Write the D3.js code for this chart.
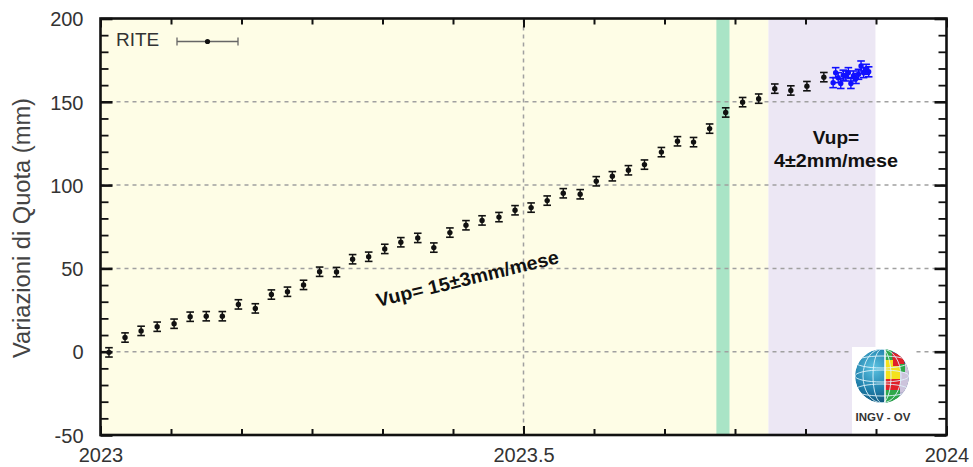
<!DOCTYPE html>
<html><head><meta charset="utf-8">
<script src="https://cdn.jsdelivr.net/npm/d3@7"></script>
<style>html,body{margin:0;padding:0;background:#fff;}svg{display:block;font-family:"Liberation Sans",Arial,sans-serif;}</style>
</head><body><div id="chart"></div>
<script>
// ---- DATA ----
const stationName = "RITE";
const weeklyDates = [2023.010,2023.029,2023.048,2023.067,2023.087,2023.106,2023.125,2023.144,2023.163,2023.183,
  2023.202,2023.221,2023.240,2023.259,2023.279,2023.298,2023.317,2023.336,2023.355,2023.375,
  2023.394,2023.413,2023.432,2023.451,2023.471,2023.490,2023.509,2023.528,2023.547,2023.567,
  2023.586,2023.605,2023.624,2023.643,2023.663,2023.682,2023.701,2023.720,2023.739,2023.759,
  2023.778,2023.797,2023.816,2023.835,2023.855];
const weeklyValues = [-0.4,8.5,12.5,15,16.8,21,21.3,21.3,28.4,26,
  34.3,36,40.1,48,47.8,55.5,57,61.7,65.7,68.3,
  62.5,71.5,75.9,78.8,80.8,84.9,86.5,90.7,95.1,94.5,
  102.3,105.3,108.9,112.3,119.8,126.3,125.8,133.9,143.6,149.8,
  151.9,157.9,156.8,159.4,164.8];
const weeklyErr = [2.8,2.8,2.8,2.8,2.8,2.8,2.8,2.8,2.8,2.8,2.8,2.8,2.8,2.8,2.8,2.8,2.8,2.8,2.8,2.8,
  2.8,2.8,2.8,2.8,2.8,2.8,2.8,2.8,2.8,2.8,2.8,2.8,2.8,2.8,2.8,2.8,2.8,2.8,2.8,2.8,2.8,2.8,2.8,2.8,2.8];
const dailyDates = [2023.866,2023.869,2023.872,2023.875,2023.878,2023.881,2023.884,2023.887,2023.890,2023.893,
  2023.896,2023.899,2023.902,2023.905,2023.908];
const dailyValues = [161.5,167.5,164.5,161,166,165.5,167.5,161,165.5,164,166.5,171.5,167.5,169.5,168];
const dailyErr = [3,3,3,3,3,3,3,3,3,3,3,3,3,3,3];
const periods = [ // [start, end]
  [2023.0, 2023.7895],   // fase 1 (yellow)
  [2023.728, 2023.7435], // green band
  [2023.7895, 2023.916]  // fase 2 (lavender)
];
const gridY = [0, 50, 100, 150];
const gridX = [2023.5];
const yTicksMajor = [-50, 0, 50, 100, 150, 200];
const xTicksMajor = [2023, 2023.5, 2024];
const rateLabel1 = "Vup= 15±3mm/mese";
const rateLabel2a = "Vup=";
const rateLabel2b = "4±2mm/mese";
const yTitle = "Variazioni di Quota (mm)";
const logoText = "INGV - OV";

// ---- CHART ----
const W = 973, H = 467;
const svg = d3.select("#chart").append("svg").attr("width", W).attr("height", H);
const x = d3.scaleLinear().domain([2023, 2024]).range([100.5, 946.5]);
const y = d3.scaleLinear().domain([-50, 200]).range([435, 18.5]);
const pTop = y(200), pBot = y(-50), pLeft = x(2023), pRight = x(2024);

// backgrounds
const bgCols = ["#fefde6", "#a9e4c6", "#ece7f4"];
svg.selectAll("rect.bg").data(periods).join("rect").attr("class", "bg")
  .attr("x", d => x(d[0])).attr("width", d => x(d[1]) - x(d[0]))
  .attr("y", pTop).attr("height", pBot - pTop)
  .attr("fill", (d, i) => bgCols[i]);

// gridlines
svg.selectAll("line.gy").data(gridY).join("line").attr("class", "gy")
  .attr("x1", pLeft).attr("x2", pRight).attr("y1", d => y(d)).attr("y2", d => y(d))
  .attr("stroke", "#a0a0a0").attr("stroke-width", 1.5).attr("stroke-dasharray", "4,4");
svg.selectAll("line.gx").data(gridX).join("line").attr("class", "gx")
  .attr("y1", pTop).attr("y2", pBot).attr("x1", d => x(d)).attr("x2", d => x(d))
  .attr("stroke", "#a0a0a0").attr("stroke-width", 1.5).attr("stroke-dasharray", "4,4");

// logo
const defs = svg.append("defs");
const rg = defs.append("radialGradient").attr("id", "globeG").attr("cx", "35%").attr("cy", "35%").attr("r", "75%");
rg.append("stop").attr("offset", "0%").attr("stop-color", "#5cc3e2");
rg.append("stop").attr("offset", "55%").attr("stop-color", "#1f7fab");
rg.append("stop").attr("offset", "100%").attr("stop-color", "#0c4a6e");
const gcx = 882, gcy = 376, gr = 27;
defs.append("clipPath").attr("id", "globeClip").append("circle").attr("cx", gcx).attr("cy", gcy).attr("r", gr);
const logo = svg.append("g");
logo.append("rect").attr("x", 852).attr("y", 347).attr("width", 61).attr("height", 87).attr("fill", "#fff");
const gl = logo.append("g").attr("clip-path", "url(#globeClip)");
gl.append("circle").attr("cx", gcx).attr("cy", gcy).attr("r", gr).attr("fill", "url(#globeG)");
const patches = [
  ["#2fa84a", [[885,349],[892,349],[893,360],[885,360]]],
  ["#e02028", [[892,352],[903,356],[905,366],[893,366]]],
  ["#f4e21c", [[885,360],[893,360],[893,366],[885,366]]],
  ["#f4e21c", [[885,366],[900,366],[900,379],[885,379]]],
  ["#2fa84a", [[900,364],[905,364],[905,372],[900,372]]],
  ["#e02028", [[885,379],[900,379],[900,390],[885,390]]],
  ["#cdc4dc", [[905,360],[912,360],[912,392],[900,392],[900,372],[905,372]]],
  ["#2fa84a", [[885,390],[900,390],[899,405],[885,405]]],
  ["#b9b3cf", [[900,392],[912,392],[912,405],[899,405]]]
];
gl.selectAll("polygon").data(patches).join("polygon")
  .attr("points", d => d[1].map(p => p.join(",")).join(" ")).attr("fill", d => d[0]);
[-14, 0, 14].forEach(dy => {
  gl.append("ellipse").attr("cx", gcx).attr("cy", gcy + dy).attr("rx", gr).attr("ry", 6)
    .attr("fill", "none").attr("stroke", "#dff3fa").attr("stroke-width", 0.9);
});
[9, 19].forEach(rx => {
  gl.append("ellipse").attr("cx", gcx).attr("cy", gcy).attr("rx", rx).attr("ry", gr)
    .attr("fill", "none").attr("stroke", "#dff3fa").attr("stroke-width", 0.9);
});
gl.append("line").attr("x1", gcx + 3).attr("x2", gcx + 3).attr("y1", gcy - gr).attr("y2", gcy + gr)
  .attr("stroke", "#fff").attr("stroke-width", 1.5);
logo.append("text").attr("x", gcx + 1).attr("y", 421).attr("text-anchor", "middle")
  .attr("font-size", 10.5).attr("font-weight", "bold").attr("fill", "#333")
  .attr("textLength", 55).attr("lengthAdjust", "spacingAndGlyphs").text(logoText);

// error bars + points
function drawSeries(dates, vals, errs, col, cls) {
  const d = dates.map((t, i) => ({t, v: vals[i], e: errs[i]}));
  const g = svg.append("g").attr("class", cls);
  const cw = 3.8;
  g.selectAll("line.eb").data(d).join("line").attr("class", "eb")
    .attr("x1", p => x(p.t)).attr("x2", p => x(p.t))
    .attr("y1", p => y(p.v - p.e)).attr("y2", p => y(p.v + p.e))
    .attr("stroke", col).attr("stroke-width", 1.4);
  g.selectAll("line.ct").data(d).join("line").attr("class", "ct")
    .attr("x1", p => x(p.t) - cw).attr("x2", p => x(p.t) + cw)
    .attr("y1", p => y(p.v + p.e)).attr("y2", p => y(p.v + p.e))
    .attr("stroke", col).attr("stroke-width", 1.6);
  g.selectAll("line.cb").data(d).join("line").attr("class", "cb")
    .attr("x1", p => x(p.t) - cw).attr("x2", p => x(p.t) + cw)
    .attr("y1", p => y(p.v - p.e)).attr("y2", p => y(p.v - p.e))
    .attr("stroke", col).attr("stroke-width", 1.6);
  g.selectAll("circle").data(d).join("circle")
    .attr("cx", p => x(p.t)).attr("cy", p => y(p.v)).attr("r", 2.7).attr("fill", col);
}
drawSeries(weeklyDates, weeklyValues, weeklyErr, "#111", "weekly");
drawSeries(dailyDates, dailyValues, dailyErr, "#1010ff", "daily");

// annotations
svg.append("text").attr("transform", "translate(469,285) rotate(-13.6)")
  .attr("text-anchor", "middle").attr("font-size", 19).attr("font-weight", "bold").attr("fill", "#111")
  .attr("textLength", 187).attr("lengthAdjust", "spacingAndGlyphs").text(rateLabel1);
svg.append("text").attr("x", 836).attr("y", 144).attr("text-anchor", "middle")
  .attr("font-size", 19).attr("font-weight", "bold").attr("fill", "#111").text(rateLabel2a);
svg.append("text").attr("x", 836).attr("y", 167).attr("text-anchor", "middle")
  .attr("font-size", 19).attr("font-weight", "bold").attr("fill", "#111")
  .attr("textLength", 124).attr("lengthAdjust", "spacingAndGlyphs").text(rateLabel2b);

// legend
svg.append("text").attr("x", 116).attr("y", 45.5).attr("font-size", 19).attr("fill", "#333").text(stationName);
const lg = svg.append("g").attr("stroke", "#666").attr("stroke-width", 1.3);
lg.append("line").attr("x1", 177).attr("x2", 238).attr("y1", 41.5).attr("y2", 41.5);
lg.append("line").attr("x1", 177).attr("x2", 177).attr("y1", 37.5).attr("y2", 45.5);
lg.append("line").attr("x1", 238).attr("x2", 238).attr("y1", 37.5).attr("y2", 45.5);
svg.append("circle").attr("cx", 207.5).attr("cy", 41.5).attr("r", 2.6).attr("fill", "#111");

// axes (ticks inside)
const yTicksAll = d3.range(-50, 201, 10);
const xTicksAll = d3.range(0, 13).map(m => 2023 + m / 12);
const isMajY = v => yTicksMajor.includes(v);
const isMajX = v => xTicksMajor.some(t => Math.abs(t - v) < 1e-6);

const axL = svg.append("g").attr("transform", `translate(${pLeft},0)`)
  .call(d3.axisLeft(y).tickValues(yTicksAll).tickSize(0).tickFormat(v => isMajY(v) ? String(v) : ""));
axL.select(".domain").remove();
axL.selectAll(".tick line").attr("x2", v => isMajY(v) ? 12 : 8).attr("stroke", "#111").attr("stroke-width", v => isMajY(v) ? 2.6 : 1.8);
axL.selectAll(".tick text").attr("x", -17).attr("dy", "0.36em").attr("font-size", 20).attr("fill", "#333")
  .attr("font-family", "Liberation Sans, Arial, sans-serif");

const axR = svg.append("g").attr("transform", `translate(${pRight},0)`)
  .call(d3.axisRight(y).tickValues(yTicksAll).tickSize(0).tickFormat(""));
axR.select(".domain").remove();
axR.selectAll(".tick line").attr("x2", v => isMajY(v) ? -12 : -8).attr("stroke", "#111").attr("stroke-width", v => isMajY(v) ? 2.6 : 1.8);

const axB = svg.append("g").attr("transform", `translate(0,${pBot})`)
  .call(d3.axisBottom(x).tickValues(xTicksAll).tickSize(0).tickFormat(v => isMajX(v) ? String(+v.toFixed(1)) : ""));
axB.select(".domain").remove();
axB.selectAll(".tick line").attr("y2", v => isMajX(v) ? -9 : -6).attr("stroke", "#111").attr("stroke-width", 2);
axB.selectAll(".tick text").attr("y", 13).attr("dy", "0.71em").attr("font-size", 20).attr("fill", "#333")
  .attr("font-family", "Liberation Sans, Arial, sans-serif");

const axT = svg.append("g").attr("transform", `translate(0,${pTop})`)
  .call(d3.axisTop(x).tickValues(xTicksAll).tickSize(0).tickFormat(""));
axT.select(".domain").remove();
axT.selectAll(".tick line").attr("y2", v => isMajX(v) ? 9 : 6).attr("stroke", "#111").attr("stroke-width", 2);

// frame
svg.append("rect").attr("x", pLeft).attr("y", pTop).attr("width", pRight - pLeft).attr("height", pBot - pTop)
  .attr("fill", "none").attr("stroke", "#111").attr("stroke-width", 2.6);

// y title
svg.append("text").attr("transform", "translate(30,228) rotate(-90)").attr("text-anchor", "middle")
  .attr("font-size", 23).attr("fill", "#444").attr("textLength", 260).attr("lengthAdjust", "spacingAndGlyphs")
  .text(yTitle);
</script></body></html>
